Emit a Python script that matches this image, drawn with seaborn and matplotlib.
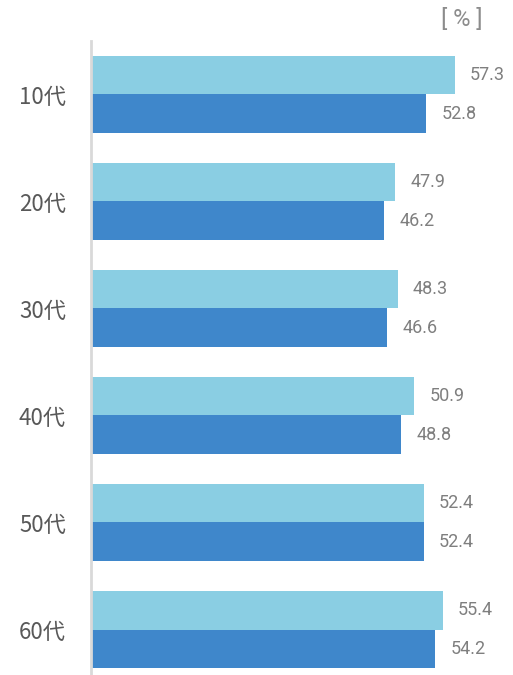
import matplotlib
matplotlib.use("Agg")
import matplotlib.pyplot as plt
import seaborn as sns
import pandas as pd

# Age groups and the two series (percent)
ages = ["10代", "20代", "30代", "40代", "50代", "60代"]
series_names = ["A", "B"]
values_a = [57.3, 47.9, 48.3, 50.9, 52.4, 55.4]
values_b = [52.8, 46.2, 46.6, 48.8, 52.4, 54.2]
unit_label = "[ % ]"

df = pd.DataFrame({
    "age": ages * 2,
    "series": [series_names[0]] * len(ages) + [series_names[1]] * len(ages),
    "value": values_a + values_b,
})

sns.set_theme(style="white")
plt.rcParams["font.family"] = ["Noto Sans CJK JP", "DejaVu Sans"]

W, H, DPI = 513, 675, 100
fig = plt.figure(figsize=(W / DPI, H / DPI), dpi=DPI)

px_per_unit = 6.35
x_max = (W - 91) / px_per_unit
ax = fig.add_axes([91 / W, 1 - 683 / H, (W - 91) / W, 642 / H])

colors = ["#8ACEE3", "#3F87CB"]
sns.barplot(data=df, y="age", x="value", hue="series", order=ages,
            hue_order=series_names, palette=colors, orient="h",
            width=0.72, saturation=1, linewidth=0, ax=ax, legend=False)

ax.set_xlim(0, x_max)
ax.set_ylim(len(ages) - 0.5, -0.5)
ax.set_xlabel("")
ax.set_ylabel("")
ax.set_xticks([])
for side in ["top", "right", "bottom"]:
    ax.spines[side].set_visible(False)
ax.spines["left"].set_color("#D9D9D9")
ax.spines["left"].set_linewidth(2)
ax.tick_params(axis="y", length=0, pad=18, labelsize=16, labelcolor="#595959")

for container in ax.containers:
    ax.bar_label(container, fmt="%.1f", padding=11, fontsize=13,
                 color="#7F7F7F", family=["Roboto", "DejaVu Sans"])

fig.text(462 / W, 1 - 19 / H, unit_label, ha="center", va="center",
         fontsize=17, color="#8C8C8C", family=["Roboto", "DejaVu Sans"])

fig.savefig("out.png", dpi=DPI)
